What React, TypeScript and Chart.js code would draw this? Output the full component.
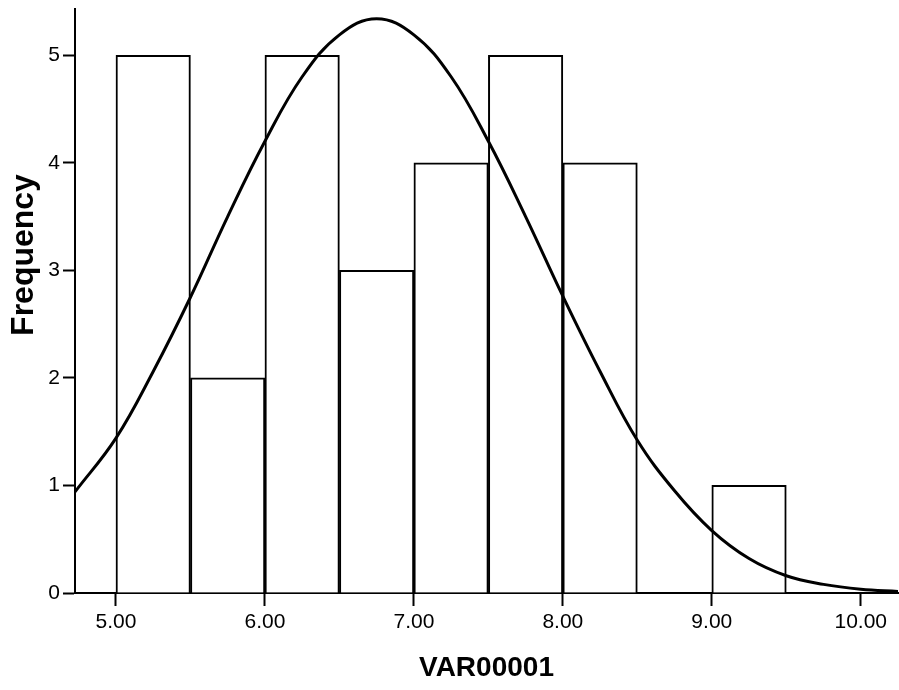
import React, { useEffect, useRef } from "react";
import { Chart, registerables } from "chart.js";

Chart.register(...registerables);

// Histogram bins (centers of 0.5-wide bins) and their frequencies
const binCenters = [5.25, 5.75, 6.25, 6.75, 7.25, 7.75, 8.25, 8.75, 9.25];
const frequencies = [5, 2, 5, 3, 4, 5, 4, 0, 1];

// Normal curve overlay
const curveX = [4.725, 5.0, 5.25, 5.5, 5.75, 6.0, 6.25, 6.5, 6.75, 7.0, 7.25, 7.5, 7.75, 8.0, 8.25, 8.5, 8.75, 9.0, 9.25, 9.5, 9.75, 10.0, 10.25];
const curveY = [0.94, 1.44, 2.06, 2.75, 3.5, 4.2, 4.8, 5.19, 5.34, 5.19, 4.8, 4.2, 3.5, 2.76, 2.06, 1.42, 0.95, 0.58, 0.32, 0.16, 0.08, 0.035, 0.015];

const xTickValues = [5, 6, 7, 8, 9, 10];
const yTickValues = [0, 1, 2, 3, 4, 5];

const xTitle = "VAR00001";
const yTitle = "Frequency";

const FONT = "'Liberation Sans', Arial, Helvetica, sans-serif";

const yTitlePlugin = {
  id: "yTitlePlugin",
  afterDraw(chart: any) {
    const ctx = chart.ctx;
    ctx.save();
    ctx.translate(33, 255);
    ctx.rotate(-Math.PI / 2);
    ctx.font = `bold 32px ${FONT}`;
    ctx.fillStyle = "#000";
    ctx.textAlign = "center";
    ctx.textBaseline = "alphabetic";
    ctx.fillText(yTitle, 0, 0);
    ctx.restore();
  },
};

export default function App() {
  const ref = useRef<HTMLCanvasElement | null>(null);

  useEffect(() => {
    document.body.style.margin = "0";
    const canvas = ref.current;
    if (!canvas) return;
    const chart = new Chart(canvas, {
      type: "bar",
      data: {
        datasets: [
          {
            type: "line",
            label: "Normal",
            data: curveX.map((x, i) => ({ x, y: curveY[i] })),
            borderColor: "#000",
            borderWidth: 3,
            pointRadius: 0,
            tension: 0.4,
            fill: false,
            order: 0,
          } as any,
          {
            type: "bar",
            label: "Frequency",
            data: binCenters.map((x, i) => ({ x, y: frequencies[i] })),
            backgroundColor: "#fff",
            borderColor: "#000",
            borderWidth: 2,
            barPercentage: 1,
            categoryPercentage: 1,
            order: 1,
          } as any,
        ],
      },
      plugins: [yTitlePlugin],
      options: {
        animation: false,
        responsive: false,
        devicePixelRatio: 1,
        layout: { padding: { top: 9, right: 1, left: 0, bottom: 0 } },
        plugins: { legend: { display: false }, tooltip: { enabled: false } },
        scales: {
          x: {
            type: "linear",
            min: 4.725,
            max: 10.25,
            offset: false,
            afterBuildTicks: (s: any) => {
              s.ticks = xTickValues.map((v) => ({ value: v }));
            },
            afterFit: (s: any) => {
              s.height = 97;
              s.paddingLeft = 0;
              s.paddingRight = 0;
            },
            ticks: {
              color: "#000",
              font: { family: FONT, size: 21 },
              padding: 4,
              maxRotation: 0,
              autoSkip: false,
              callback: (v: any) => Number(v).toFixed(2),
            },
            grid: { offset: false, drawOnChartArea: false, drawTicks: true, tickLength: 13, tickWidth: 2, tickColor: "#000" },
            border: { display: true, color: "#000", width: 2 },
            title: {
              display: true,
              text: xTitle,
              color: "#000",
              font: { family: FONT, size: 28, weight: "bold" },
              padding: { top: 0, bottom: 5 },
            },
          },
          y: {
            type: "linear",
            min: 0,
            max: 5.43,
            afterBuildTicks: (s: any) => {
              s.ticks = yTickValues.map((v) => ({ value: v }));
            },
            afterFit: (s: any) => {
              s.width = 75;
              s.paddingTop = 0;
              s.paddingBottom = 0;
            },
            ticks: {
              color: "#000",
              font: { family: FONT, size: 21 },
              padding: 3,
              autoSkip: false,
            },
            grid: { drawOnChartArea: false, drawTicks: true, tickLength: 12, tickWidth: 2, tickColor: "#000" },
            border: { display: true, color: "#000", width: 2 },
            title: { display: false },
          },
        },
      } as any,
    });
    return () => chart.destroy();
  }, []);

  return <canvas ref={ref} width={899} height={690} style={{ display: "block" }} />;
}
